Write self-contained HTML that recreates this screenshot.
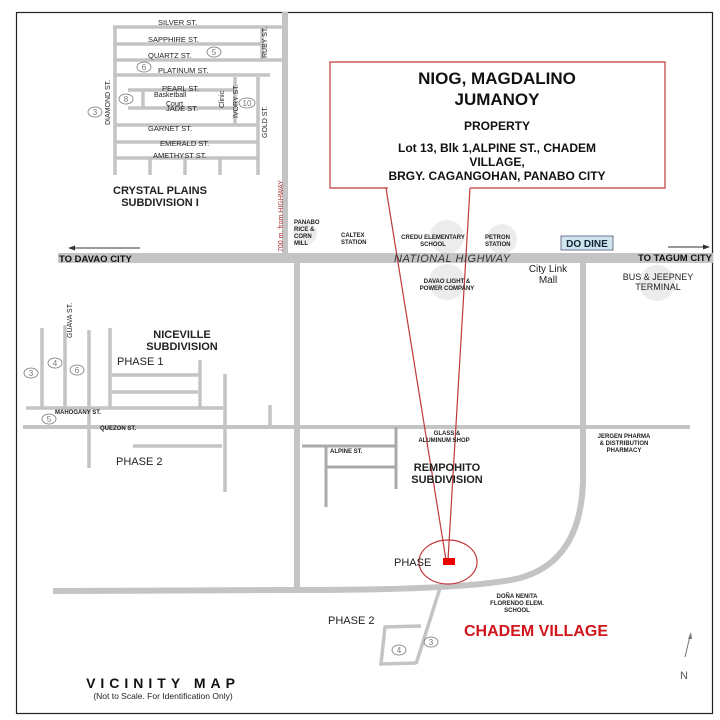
<!DOCTYPE html>
<html><head><style>
html,body{margin:0;padding:0;background:#fff;}
svg{display:block;}
text{font-family:"Liberation Sans",Arial,sans-serif;}
</style></head><body>
<svg width="720" height="720" viewBox="0 0 720 720" xmlns="http://www.w3.org/2000/svg">
<rect x="0" y="0" width="720" height="720" fill="#fff"/>
<rect x="16.5" y="12.5" width="696" height="701" fill="none" stroke="#222" stroke-width="1.2"/>

<!-- highlight circles -->
<g fill="#ececec">
<circle cx="305" cy="233" r="12"/>
<circle cx="447" cy="237" r="17"/>
<circle cx="502" cy="239" r="15"/>
<circle cx="447" cy="282" r="18"/>
<circle cx="657" cy="283" r="18"/>
</g>

<g stroke="#c4c4c4" fill="none" stroke-linecap="butt">
<!-- crystal plains -->
<g stroke-width="3.5">
<line x1="113" y1="27" x2="283" y2="27"/>
<line x1="113" y1="44" x2="262" y2="44"/>
<line x1="113" y1="60" x2="283" y2="60"/>
<line x1="113" y1="75" x2="270" y2="75"/>
<line x1="128" y1="90" x2="233" y2="90"/>
<line x1="128" y1="108" x2="233" y2="108"/>
<line x1="115" y1="125" x2="258" y2="125"/>
<line x1="115" y1="142" x2="258" y2="142"/>
<line x1="115" y1="158" x2="258" y2="158"/>
<line x1="115" y1="27" x2="115" y2="175"/>
<line x1="262" y1="27" x2="262" y2="60"/>
<line x1="258" y1="77" x2="258" y2="175"/>
<line x1="235" y1="77" x2="235" y2="125"/>
<line x1="143" y1="90" x2="143" y2="108"/>
<line x1="150" y1="158" x2="150" y2="175"/>
<line x1="185" y1="158" x2="185" y2="175"/>
<line x1="220" y1="158" x2="220" y2="175"/>
</g>
<line x1="285" y1="12" x2="285" y2="258" stroke-width="6"/>
<!-- highway -->
<line x1="58" y1="258" x2="713" y2="258" stroke-width="10"/>
<line x1="297" y1="262" x2="297" y2="590" stroke-width="6"/>
<path d="M583 262 L583 470 Q585 560 520 578 Q470 590 300 590 L53 591" stroke-width="6"/>
<!-- quezon & niceville -->
<line x1="23" y1="427" x2="690" y2="427" stroke-width="4"/>
<g stroke-width="3.5">
<line x1="26" y1="408" x2="223" y2="408"/>
<line x1="42" y1="328" x2="42" y2="408"/>
<line x1="65" y1="325" x2="65" y2="408"/>
<line x1="89" y1="330" x2="89" y2="468"/>
<line x1="110" y1="328" x2="110" y2="408"/>
<line x1="112" y1="375" x2="200" y2="375"/>
<line x1="112" y1="392" x2="198" y2="392"/>
<line x1="200" y1="360" x2="200" y2="408"/>
<line x1="225" y1="374" x2="225" y2="492"/>
<line x1="270" y1="405" x2="270" y2="427"/>
<line x1="133" y1="446" x2="222" y2="446"/>
</g>
<!-- alpine block -->
<g stroke="#aaa" stroke-width="3">
<line x1="302" y1="446" x2="396" y2="446"/>
<line x1="326" y1="467" x2="396" y2="467"/>
<line x1="326" y1="446" x2="326" y2="507"/>
<line x1="396" y1="427" x2="396" y2="489"/>
</g>
<!-- chadem phase2 -->
<g stroke-width="3.5">
<line x1="440" y1="588" x2="416" y2="664"/>
<path d="M421 626 L385 627 L381 664 L416 663"/>
</g>
</g>

<!-- red callout -->
<path d="M388 188 L330 188 L330 62 L665 62 L665 188 L470 188" fill="#fff" stroke="#c0393b" stroke-width="1.2"/>
<line x1="386" y1="188" x2="446" y2="560" stroke="#c0393b" stroke-width="1.2"/>
<line x1="470" y1="188" x2="448" y2="560" stroke="#c0393b" stroke-width="1.2"/>
<ellipse cx="448" cy="562" rx="29" ry="22" fill="none" stroke="#c0393b" stroke-width="1.2"/>
<rect x="443" y="558" width="12" height="7" fill="#e00"/>

<g text-anchor="middle" font-weight="bold" fill="#111">
<text x="497" y="84" font-size="17">NIOG, MAGDALINO</text>
<text x="497" y="105" font-size="17">JUMANOY</text>
<text x="497" y="130" font-size="12">PROPERTY</text>
<text x="497" y="152" font-size="12">Lot 13, Blk 1,ALPINE ST., CHADEM</text>
<text x="497" y="166" font-size="12">VILLAGE,</text>
<text x="497" y="180" font-size="12">BRGY. CAGANGOHAN, PANABO CITY</text>
</g>

<!-- crystal plains labels -->
<g font-size="7.5" fill="#222">
<text x="158" y="25">SILVER  ST.</text>
<text x="148" y="42">SAPPHIRE  ST.</text>
<text x="148" y="58">QUARTZ  ST.</text>
<text x="158" y="73">PLATINUM  ST.</text>
<text x="162" y="91">PEARL  ST.</text>
<text x="166" y="111">JADE  ST.</text>
<text x="148" y="131">GARNET  ST.</text>
<text x="160" y="146">EMERALD  ST.</text>
<text x="153" y="158">AMETHYST  ST.</text>
<text x="154" y="97" font-size="7">Basketball</text>
<text x="166" y="106" font-size="7">Court</text>
</g>
<g font-size="7" fill="#222">
<text transform="translate(110,125) rotate(-90)">DIAMOND  ST.</text>
<text transform="translate(267,58) rotate(-90)">RUBY  ST.</text>
<text transform="translate(267,138) rotate(-90)">GOLD  ST.</text>
<text transform="translate(238,118) rotate(-90)">IVORY  ST.</text>
<text transform="translate(224,108) rotate(-90)">Clinic</text>
<text transform="translate(72,338) rotate(-90)">GUAVA  ST.</text>
</g>
<text transform="translate(283,252) rotate(-90)" font-size="7" fill="#a33">700 m. from HIGHWAY</text>

<g fill="none" stroke="#777" stroke-width="0.8">
<ellipse cx="214" cy="52" rx="7" ry="5"/>
<ellipse cx="144" cy="67" rx="7" ry="5"/>
<ellipse cx="126" cy="99" rx="7" ry="5"/>
<ellipse cx="95" cy="112" rx="7" ry="5"/>
<ellipse cx="247" cy="103" rx="8" ry="5"/>
<ellipse cx="31" cy="373" rx="7" ry="5"/>
<ellipse cx="55" cy="363" rx="7" ry="5"/>
<ellipse cx="77" cy="370" rx="7" ry="5"/>
<ellipse cx="49" cy="419" rx="7" ry="5"/>
<ellipse cx="399" cy="650" rx="7" ry="5"/>
<ellipse cx="431" cy="642" rx="7" ry="5"/>
</g>
<g font-size="8" fill="#777" text-anchor="middle">
<text x="214" y="55">5</text><text x="144" y="70">6</text><text x="126" y="102">8</text>
<text x="95" y="115">3</text><text x="247" y="106">10</text>
<text x="31" y="376">3</text><text x="55" y="366">4</text><text x="77" y="373">6</text>
<text x="49" y="422">5</text><text x="399" y="653">4</text><text x="431" y="645">3</text>
</g>

<g font-weight="bold" fill="#222" text-anchor="middle">
<text x="160" y="194" font-size="11">CRYSTAL PLAINS</text>
<text x="160" y="206" font-size="11">SUBDIVISION I</text>
<text x="182" y="338" font-size="11">NICEVILLE</text>
<text x="182" y="350" font-size="11">SUBDIVISION</text>
<text x="447" y="471" font-size="11">REMPOHITO</text>
<text x="447" y="483" font-size="11">SUBDIVISION</text>
</g>
<g font-size="11" fill="#222">
<text x="117" y="365">PHASE 1</text>
<text x="116" y="465">PHASE 2</text>
<text x="328" y="624">PHASE 2</text>
<text x="394" y="566">PHASE</text>
</g>
<g font-size="6" font-weight="bold" fill="#222">
<text x="55" y="414">MAHOGANY  ST.</text>
<text x="100" y="430">QUEZON  ST.</text>
<text x="330" y="453">ALPINE  ST.</text>
</g>

<!-- highway labels -->
<g font-size="6" font-weight="bold" fill="#222">
<text x="294" y="224">PANABO</text><text x="294" y="231">RICE &amp;</text>
<text x="294" y="238">CORN</text><text x="294" y="245">MILL</text>
<text x="341" y="237">CALTEX</text><text x="341" y="244">STATION</text>
<text x="485" y="239">PETRON</text><text x="485" y="246">STATION</text>
</g>
<g font-size="6" font-weight="bold" fill="#222" text-anchor="middle">
<text x="433" y="239">CREDU ELEMENTARY</text><text x="433" y="246">SCHOOL</text>
<text x="447" y="283">DAVAO LIGHT &amp;</text><text x="447" y="290">POWER COMPANY</text>
<text x="447" y="435">GLASS &amp;</text><text x="444" y="442">ALUMINUM SHOP</text>
<text x="624" y="438">JERGEN PHARMA</text><text x="624" y="445">&amp; DISTRIBUTION</text><text x="624" y="452">PHARMACY</text>
<text x="517" y="598">DOÑA NENITA</text><text x="517" y="605">FLORENDO ELEM.</text><text x="517" y="612">SCHOOL</text>
</g>
<text x="394" y="262" font-size="11" font-style="italic" fill="#333" letter-spacing="0.5">NATIONAL HIGHWAY</text>
<text x="548" y="272" font-size="10" fill="#222" text-anchor="middle">City Link</text>
<text x="548" y="283" font-size="10" fill="#222" text-anchor="middle">Mall</text>
<text x="658" y="280" font-size="9" fill="#222" text-anchor="middle">BUS &amp; JEEPNEY</text>
<text x="658" y="290" font-size="9" fill="#222" text-anchor="middle">TERMINAL</text>
<rect x="561" y="236" width="52" height="14" fill="#cfe6ee" stroke="#557" stroke-width="0.8"/>
<text x="587" y="247" font-size="10" font-weight="bold" fill="#123" text-anchor="middle">DO DINE</text>
<text x="59" y="262" font-size="9.5" font-weight="bold" fill="#111">TO DAVAO CITY</text>
<text x="712" y="261" font-size="9.5" font-weight="bold" fill="#111" text-anchor="end">TO TAGUM CITY</text>
<line x1="72" y1="248" x2="140" y2="248" stroke="#333" stroke-width="1"/>
<polygon points="68,248 75,245.5 75,250.5" fill="#333"/>
<line x1="668" y1="247" x2="705" y2="247" stroke="#333" stroke-width="1"/>
<polygon points="710,247 703,244.5 703,249.5" fill="#333"/>

<text x="536" y="636" font-size="16" font-weight="bold" fill="#d0151b" text-anchor="middle">CHADEM VILLAGE</text>
<line x1="685" y1="657" x2="690" y2="636" stroke="#777" stroke-width="1"/>
<polygon points="691,632 688,639 692,639" fill="#777"/>
<text x="684" y="679" font-size="11" fill="#555" text-anchor="middle">N</text>

<text x="163" y="688" font-size="14" font-weight="bold" fill="#111" text-anchor="middle" letter-spacing="5">VICINITY MAP</text>
<text x="163" y="699" font-size="8.5" fill="#222" text-anchor="middle">(Not to Scale. For Identification Only)</text>
</svg>
</body></html>
